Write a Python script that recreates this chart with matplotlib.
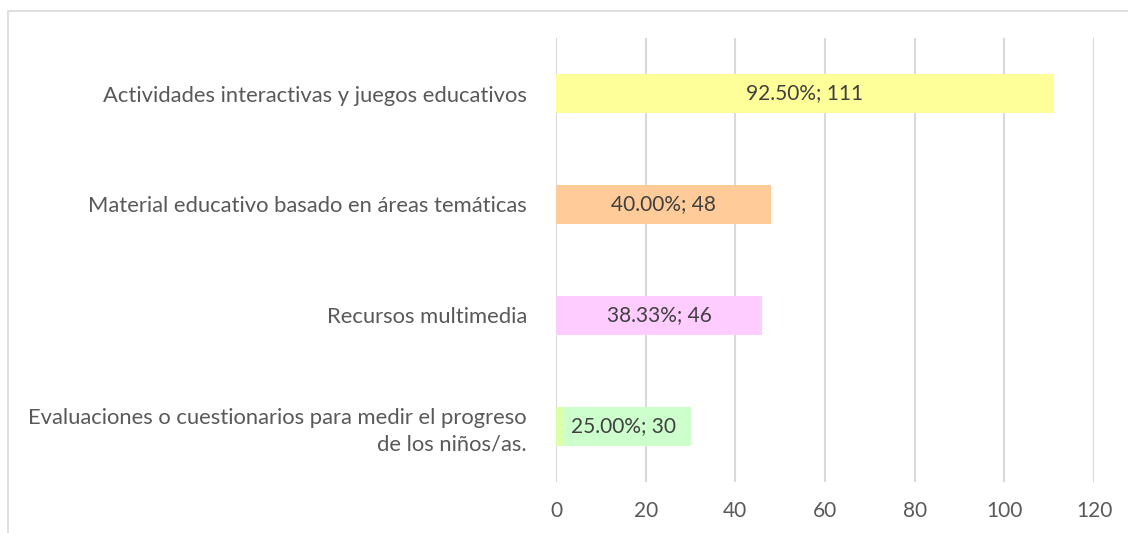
import matplotlib.pyplot as plt
from matplotlib.patches import Rectangle

categories = ['Actividades interactivas y juegos educativos',
              'Material educativo basado en áreas temáticas',
              'Recursos multimedia',
              'Evaluaciones o cuestionarios para medir el progreso\nde los niños/as.']
counts = [111, 48, 46, 30]
percents = [92.50, 40.00, 38.33, 25.00]
colors = ['#FFFF99', '#FFCC99', '#FFCCFF', '#CCFFCC']
xticks = [0, 20, 40, 60, 80, 100, 120]

plt.rcParams['font.family'] = ['Lato', 'DejaVu Sans']

fig = plt.figure(figsize=(11.28, 5.33), dpi=100)
ax = fig.add_axes([0.4929, 0.0957, 0.4770, 0.8330])

pos = list(range(len(categories)))
ax.barh(pos, counts, height=0.355, color=colors, zorder=2)
# thin lighter strip at the start of the last bar
ax.barh(pos[-1], 1.5, height=0.355, color='#DDFFAA', zorder=3)

for p, c, pc in zip(pos, counts, percents):
    ax.text(c / 2, p, '{:.2f}%; {}'.format(pc, c), ha='center', va='center',
            fontsize=15, color='#404040', zorder=4)

ax.set_ylim(len(categories) - 0.5, -0.5)
ax.set_xlim(0, 120)
ax.set_xticks(xticks)
ax.set_yticks(pos)
ax.set_yticklabels(categories, fontsize=15.8, color='#595959', linespacing=1.35)
ax.tick_params(axis='x', labelsize=15, colors='#595959', length=0, pad=14)
ax.tick_params(axis='y', length=0, pad=21)
for lab in ax.get_yticklabels():
    lab.set_horizontalalignment('right')
    lab.set_multialignment('right')
ax.grid(axis='x', color='#D9D9D9', lw=1.5, zorder=0)
for s in ax.spines.values():
    s.set_visible(False)

# outer chart frame (partially visible)
fig.add_artist(Rectangle((0.0075, -0.05), 1.1, 1.05 - 0.0206, transform=fig.transFigure,
                         fill=False, edgecolor='#D9D9D9', lw=1.2))

fig.savefig('out.png', dpi=100)
